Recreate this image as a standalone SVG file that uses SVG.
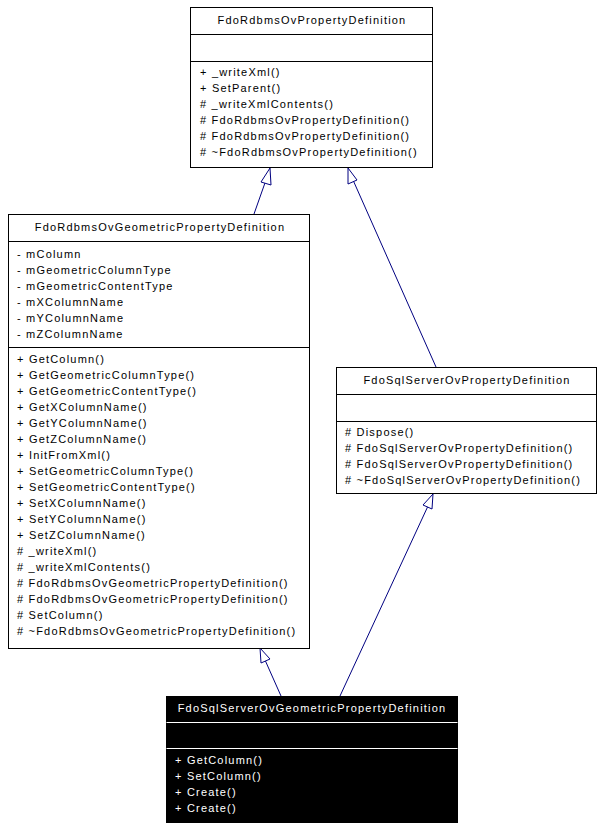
<svg xmlns="http://www.w3.org/2000/svg" width="600" height="829" viewBox="0 0 600 829">
<style>
text{font-family:"Liberation Sans",Arial,sans-serif;font-size:11px;letter-spacing:1.2px;fill:#000}
.b rect,.b line{stroke:#000;stroke-width:1}
.w rect{fill:#fff}
.k rect{fill:#000}
.k line{stroke:#fff}
.k text{fill:#fff}
.c line{stroke:#000080;stroke-width:1}
.c polygon{fill:#fff;stroke:#000080}
</style>
<rect width="600" height="829" fill="#fff"/>
<g id="connectors" class="c">
<line x1="254" y1="214" x2="266" y2="180"/><polygon points="270,168 261,182 271,185"/>
<line x1="436" y1="367" x2="353" y2="180"/><polygon points="348,168 348,184 357,180"/>
<line x1="281" y1="696" x2="265" y2="660"/><polygon points="260,648 261,663 270,659"/>
<line x1="340" y1="696" x2="428" y2="506"/><polygon points="433,494 423,505 432,509"/>
</g>
<g id="FdoRdbmsOvPropertyDefinition" class="b w">
<rect x="190.5" y="7.5" width="242" height="160"/>
<line x1="190.5" y1="34.5" x2="432.5" y2="34.5"/><line x1="190.5" y1="61.5" x2="432.5" y2="61.5"/>
<text x="312" y="24" text-anchor="middle">FdoRdbmsOvPropertyDefinition</text>
<text x="200" y="76">+ _writeXml()</text>
<text x="200" y="92">+ SetParent()</text>
<text x="200" y="108"># _writeXmlContents()</text>
<text x="200" y="124"># FdoRdbmsOvPropertyDefinition()</text>
<text x="200" y="140"># FdoRdbmsOvPropertyDefinition()</text>
<text x="200" y="156"># ~FdoRdbmsOvPropertyDefinition()</text>
</g>
<g id="FdoRdbmsOvGeometricPropertyDefinition" class="b w">
<rect x="8.5" y="214.5" width="301" height="434"/>
<line x1="8.5" y1="241.5" x2="309.5" y2="241.5"/><line x1="8.5" y1="347.5" x2="309.5" y2="347.5"/>
<text x="160" y="231" text-anchor="middle">FdoRdbmsOvGeometricPropertyDefinition</text>
<text x="17" y="258">- mColumn</text>
<text x="17" y="274">- mGeometricColumnType</text>
<text x="17" y="290">- mGeometricContentType</text>
<text x="17" y="306">- mXColumnName</text>
<text x="17" y="322">- mYColumnName</text>
<text x="17" y="338">- mZColumnName</text>
<text x="17" y="363">+ GetColumn()</text>
<text x="17" y="379">+ GetGeometricColumnType()</text>
<text x="17" y="395">+ GetGeometricContentType()</text>
<text x="17" y="411">+ GetXColumnName()</text>
<text x="17" y="427">+ GetYColumnName()</text>
<text x="17" y="443">+ GetZColumnName()</text>
<text x="17" y="459">+ InitFromXml()</text>
<text x="17" y="475">+ SetGeometricColumnType()</text>
<text x="17" y="491">+ SetGeometricContentType()</text>
<text x="17" y="507">+ SetXColumnName()</text>
<text x="17" y="523">+ SetYColumnName()</text>
<text x="17" y="539">+ SetZColumnName()</text>
<text x="17" y="555"># _writeXml()</text>
<text x="17" y="571"># _writeXmlContents()</text>
<text x="17" y="587"># FdoRdbmsOvGeometricPropertyDefinition()</text>
<text x="17" y="603"># FdoRdbmsOvGeometricPropertyDefinition()</text>
<text x="17" y="619"># SetColumn()</text>
<text x="17" y="635"># ~FdoRdbmsOvGeometricPropertyDefinition()</text>
</g>
<g id="FdoSqlServerOvPropertyDefinition" class="b w">
<rect x="336.5" y="367.5" width="260" height="126"/>
<line x1="336.5" y1="394.5" x2="596.5" y2="394.5"/><line x1="336.5" y1="421.5" x2="596.5" y2="421.5"/>
<text x="467" y="384" text-anchor="middle">FdoSqlServerOvPropertyDefinition</text>
<text x="345" y="436"># Dispose()</text>
<text x="345" y="452"># FdoSqlServerOvPropertyDefinition()</text>
<text x="345" y="468"># FdoSqlServerOvPropertyDefinition()</text>
<text x="345" y="484"># ~FdoSqlServerOvPropertyDefinition()</text>
</g>
<g id="FdoSqlServerOvGeometricPropertyDefinition" class="b k">
<rect x="166.5" y="696.5" width="291" height="126"/>
<line x1="166.5" y1="722.5" x2="457.5" y2="722.5"/><line x1="166.5" y1="748.5" x2="457.5" y2="748.5"/>
<text x="312" y="712" text-anchor="middle">FdoSqlServerOvGeometricPropertyDefinition</text>
<text x="175" y="764">+ GetColumn()</text>
<text x="175" y="780">+ SetColumn()</text>
<text x="175" y="796">+ Create()</text>
<text x="175" y="812">+ Create()</text>
</g>
</svg>
